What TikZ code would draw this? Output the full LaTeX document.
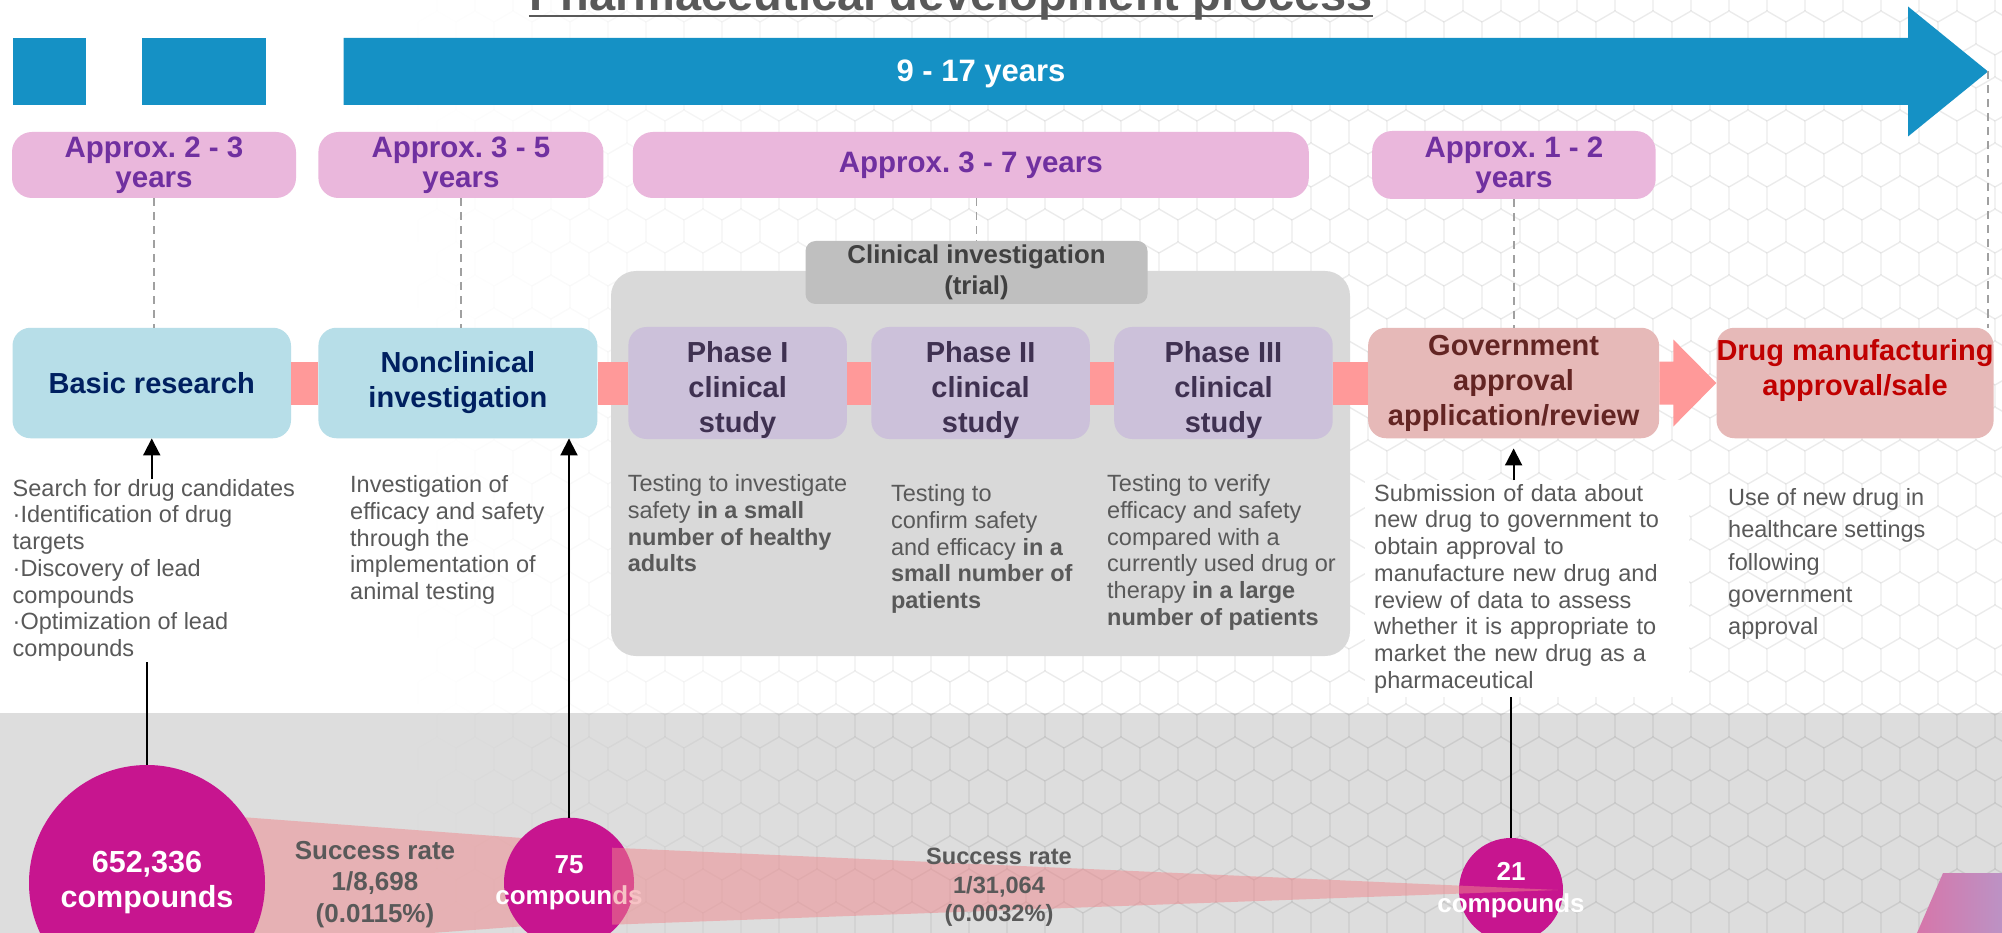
\documentclass[tikz,border=0pt]{standalone}
\usepackage{fontspec}
\setmainfont{Liberation Sans}
\usepackage{xcolor}
\usepackage{tikz}
\usetikzlibrary{arrows.meta,positioning}

\definecolor{barblue}{RGB}{21,145,197}
\definecolor{yearpink}{RGB}{234,183,220}
\definecolor{yearpurple}{RGB}{112,48,160}
\definecolor{stageblue}{RGB}{183,222,232}
\definecolor{stagenavy}{RGB}{0,32,96}
\definecolor{phaselilac}{RGB}{204,193,218}
\definecolor{phaseplum}{RGB}{63,49,81}
\definecolor{approvalrose}{RGB}{230,185,184}
\definecolor{approvalbrown}{RGB}{99,37,35}
\definecolor{salered}{RGB}{192,0,0}
\definecolor{bandpink}{RGB}{255,153,153}
\definecolor{compmagenta}{RGB}{199,21,143}
\definecolor{textgray}{RGB}{89,89,89}
\definecolor{trialgray}{RGB}{217,217,217}
\definecolor{triallabel}{RGB}{191,191,191}
\definecolor{trialtext}{RGB}{64,64,64}
\definecolor{floorgray}{RGB}{221,221,221}
\definecolor{funnelred}{RGB}{240,135,140}
\definecolor{guidegray}{RGB}{160,160,160}
\definecolor{decorpink}{RGB}{214,118,170}
\definecolor{decorlilac}{RGB}{188,146,196}

\newcommand{\setfs}[2]{\fontsize{#1}{#2}\selectfont}

\tikzstyle{yearbox} = [rectangle, fill=yearpink, rounded corners=20pt, align=center,
                       text=yearpurple, inner sep=0pt, minimum height=66pt,
                       font=\setfs{29.5}{30}\bfseries]
\tikzstyle{stage} = [rectangle, rounded corners=18pt, align=center, inner sep=0pt,
                     minimum height=110.5pt, font=\setfs{29}{35}\bfseries]
\tikzstyle{phase} = [fill=phaselilac, text=phaseplum, minimum width=218.5pt]
\tikzstyle{desc} = [align=left, anchor=north west, inner sep=0pt, text=textgray,
                    font=\setfs{23.5}{26.7}]
\tikzstyle{arrow} = [-{Triangle[length=17pt,width=17pt]}, line width=2pt]
\tikzstyle{stem} = [line width=2pt]
\tikzstyle{guide} = [draw=guidegray, line width=1.5pt, dash pattern=on 8pt off 6pt]
\tikzstyle{compound} = [circle, fill=compmagenta, inner sep=0pt]
\tikzstyle{counttext} = [align=center, text=white, inner sep=0pt,
                         font=\setfs{26}{31.7}\bfseries]
\tikzstyle{ratetext} = [align=center, anchor=north, inner sep=0pt, text=textgray]

\begin{document}
\frenchspacing
\begin{tikzpicture}[x=1pt, y=-1pt]
    \useasboundingbox (0,0) rectangle (2002,933);
    \clip (0,0) rectangle (2002,933);
    \fill [white] (0,0) rectangle (2002,933);
    \fill [floorgray] (0,713) rectangle (2002,933);

    \foreach \r in {0,...,29}{
      \foreach \c in {0,...,53}{
        \pgfmathsetmacro{\hx}{\c*38+mod(\r,2)*19}
        \pgfmathsetmacro{\hy}{\r*33}
        \pgfmathsetmacro{\hop}{0.08*min(1,max(0,(\hx-420)/560))}
        \draw [black, draw opacity=\hop, line width=1.4pt]
          (\hx-19,\hy+11) -- (\hx-19,\hy-11) -- (\hx,\hy-22) -- (\hx+19,\hy-11);
      }
    }

    \node [font=\setfs{47}{50}\bfseries, text=textgray, anchor=base, inner sep=0pt] (title) at (951,11) {Pharmaceutical development process};
    \draw [textgray, line width=2.5pt] (title.west |- 0,16) -- (title.east |- 0,16);

    \fill [barblue] (13,38) rectangle (85.5,105);
    \fill [barblue] (142,38) rectangle (266,105);
    \fill [barblue] (343.5,38) -- (1908,38) -- (1908,6.5) -- (1988,71.5) coordinate (spantip)
        -- (1908,136.5) -- (1908,105) -- (343.5,105) -- cycle;
    \node [text=white, font=\setfs{31}{34}\bfseries] (span) at (981,74) {9 - 17 years};

    \node [yearbox, minimum width=284pt] (yr1) at (154,165) {Approx. 2 - 3\\years};
    \node [yearbox, minimum width=285pt, right=22pt of yr1] (yr2) {Approx. 3 - 5\\years};
    \node [yearbox, minimum width=676pt, right=29pt of yr2] (yr3) {Approx. 3 - 7 years};
    \node [yearbox, minimum width=283.5pt, minimum height=68pt, right=63pt of yr3] (yr4) {Approx. 1 - 2\\years};

    \node [fill=trialgray, rounded corners=25pt, inner sep=0pt, minimum width=739pt, minimum height=385pt] (trial) at (980.5,463.5) {};
    \node [fill=triallabel, rounded corners=10pt, inner sep=0pt, minimum width=342pt, minimum height=63pt,
           align=center, text=trialtext, font=\setfs{25.8}{31}\bfseries] (trialhead) at (976.5,272.5) {Clinical investigation\\(trial)};

    \node [stage, fill=stageblue, text=stagenavy, minimum width=278.5pt] (basic) at (151.75,383) {Basic research};
    \node [stage, fill=stageblue, text=stagenavy, minimum width=279pt, right=27pt of basic] (nonclin) {Nonclinical\\investigation};
    \node [stage, phase, right=30.6pt of nonclin] (ph1) {\rule{0pt}{36pt}Phase I\\clinical\\study};
    \node [stage, phase, right=24pt of ph1] (ph2) {\rule{0pt}{36pt}Phase II\\clinical\\study};
    \node [stage, phase, right=24pt of ph2] (ph3) {\rule{0pt}{36pt}Phase III\\clinical\\study};
    \node [stage, fill=approvalrose, text=approvalbrown, minimum width=291pt, right=35pt of ph3] (gov) {Government\\approval\\application/review};
    \node [stage, fill=approvalrose, text=salered, minimum width=275pt, right=57pt of gov] (drug) {Drug manufacturing\\approval/sale\rule[-32pt]{0pt}{32pt}};

    \foreach \a/\b in {basic/nonclin, nonclin/ph1, ph1/ph2, ph2/ph3, ph3/gov}
      \fill [bandpink] ([yshift=21.5pt]\a.east) rectangle ([yshift=-21.5pt]\b.west);
    \fill [bandpink] ([yshift=21.5pt]gov.east) -- ([xshift=-43pt,yshift=21.5pt]drug.west)
        -- ([xshift=-43pt,yshift=43.5pt]drug.west) -- (drug.west)
        -- ([xshift=-43pt,yshift=-43.5pt]drug.west) -- ([xshift=-43pt,yshift=-21.5pt]drug.west)
        -- ([yshift=-21.5pt]gov.east) -- cycle;

    \draw [guide] (yr1.south) -- (yr1.south |- basic.north);
    \draw [guide] (yr2.south) -- (yr2.south |- nonclin.north);
    \draw [guide] (trialhead.north |- yr3.south) -- (trialhead.north);
    \draw [guide] (yr4.south) -- (yr4.south |- gov.north);
    \draw [guide] (spantip) -- (spantip |- drug.north);

    \node [desc] (basicdesc) at (12.5,479) {Search for drug candidates\\·Identification of drug\\targets\\·Discovery of lead\\compounds\\·Optimization of lead\\compounds};
    \node [desc] (nonclindesc) at (350,475.5) {Investigation of\\efficacy and safety\\through the\\implementation of\\animal testing};
    \node [desc] (ph1desc) at (627.6,474.5) {Testing to investigate\\safety \textbf{in a small}\\\textbf{number of healthy}\\\textbf{adults}};
    \node [desc] (ph2desc) at (890.8,484.5) {Testing to\\confirm safety\\and efficacy \textbf{in a}\\\textbf{small number of}\\\textbf{patients}};
    \node [desc] (ph3desc) at (1107,474.5) {Testing to verify\\efficacy and safety\\compared with a\\currently used drug or\\therapy \textbf{in a large}\\\textbf{number of patients}};
    \node [desc, fill=white, text width=306pt, inner xsep=9pt, inner ysep=4pt] (govdesc) at (1365,480) {Submission of data about\\new drug to government to\\obtain approval to\\manufacture new drug and\\review of data to assess\\whether it is appropriate to\\market the new drug as a\\pharmaceutical};
    \node [desc, font=\setfs{23.5}{32.4}] (drugdesc) at (1728,488) {Use of new drug in\\healthcare settings\\following\\government\\approval};

    \coordinate (pool) at (147,883);
    \coordinate (lead) at (569,882.7);
    \coordinate (final) at (1511,890);
    \fill [funnelred, fill opacity=.5] ([yshift=73pt]pool) -- ([xshift=43pt,yshift=38pt]lead)
        -- ([xshift=43pt,yshift=-37pt]lead) -- ([yshift=-71pt]pool) -- cycle;
    \node [compound, minimum size=236pt] (bigc) at (pool) {};
    \node [compound, minimum size=130pt] (c75) at (lead) {};
    \node [compound, minimum size=104pt] (c21) at (final) {};
    \node [counttext, font=\setfs{30.5}{35}\bfseries] (bigctxt) at (bigc) {652,336\\compounds};
    \node [counttext] (c75txt) at (c75) {75\\compounds};
    \node [counttext] (c21txt) at (c21) {21\\compounds};
    \fill [funnelred, fill opacity=.5] ([xshift=43pt,yshift=35pt]lead) -- ([xshift=47pt]final)
        -- ([xshift=43pt,yshift=-42pt]lead) -- cycle;

    \draw [arrow] (basic.south |- basicdesc.north) -- (basic.south);
    \draw [stem] (bigc.north) -- (bigc.north |- basicdesc.south);
    \draw [arrow] (c75.north) -- (c75.north |- nonclin.south);
    \draw [arrow] (gov.south |- govdesc.north) -- ([yshift=-10pt]gov.south);
    \draw [stem] (c21.north) -- (c21.north |- govdesc.south);

    \node [ratetext, font=\setfs{26}{31.6}\bfseries] (rate1) at (375,841) {Success rate\\1/8,698\\(0.0115\%)};
    \node [ratetext, font=\setfs{23.6}{28.5}\bfseries] (rate2) at (999,848) {Success rate\\1/31,064\\(0.0032\%)};

    \shade [left color=decorpink, right color=decorlilac] (1943,873) -- (2002,873) -- (2002,933) -- (1917,933) -- cycle;
\end{tikzpicture}
\end{document}
